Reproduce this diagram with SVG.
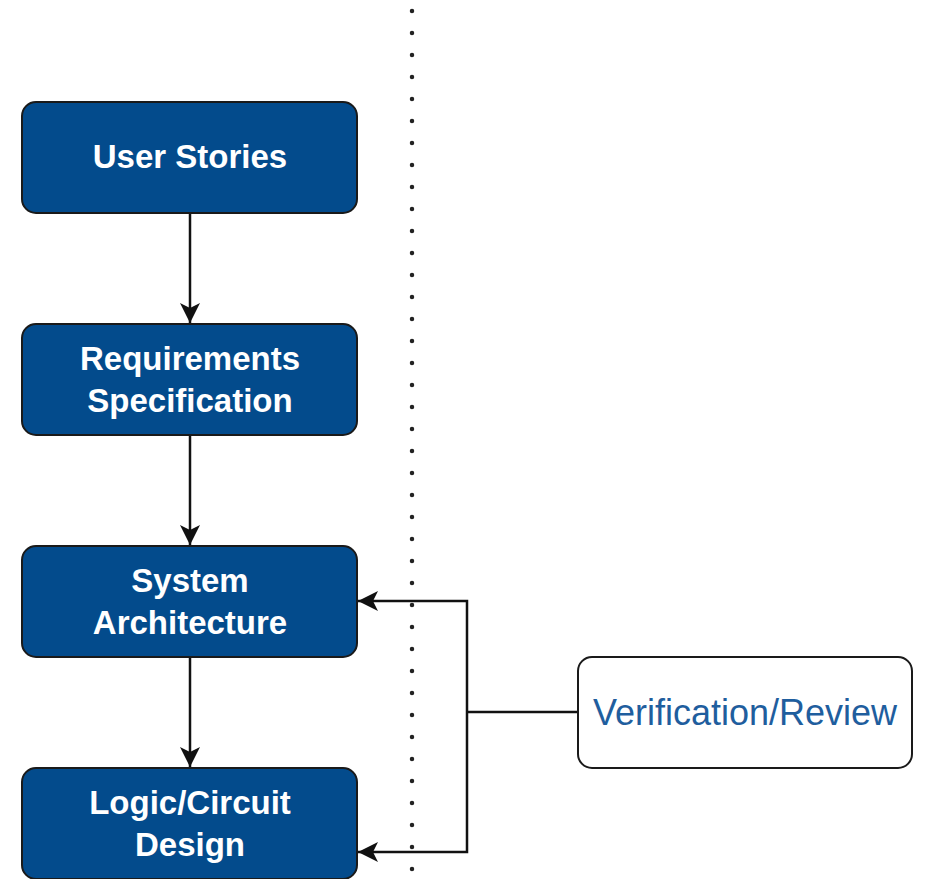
<svg xmlns="http://www.w3.org/2000/svg" width="925" height="879" viewBox="0 0 925 879">
  <style>
    .step rect { fill: #034b8c; stroke: #1a1a1a; stroke-width: 2; }
    .step text { fill: #ffffff; font-family: "Liberation Sans", Arial, sans-serif; font-weight: bold; font-size: 33px; text-anchor: middle; }
    .review rect { fill: #ffffff; stroke: #1a1a1a; stroke-width: 2; }
    .review text { fill: #1f5e9e; font-family: "Liberation Sans", Arial, sans-serif; font-size: 36px; text-anchor: middle; }
    .link { fill: none; stroke: #111111; stroke-width: 2.5; }
    .divider { stroke: #222222; stroke-width: 4.5; stroke-linecap: round; stroke-dasharray: 0 22; }
  </style>
  <defs>
    <marker id="arrow" viewBox="0 0 20 20" refX="20" refY="10" markerWidth="20" markerHeight="20" markerUnits="userSpaceOnUse" orient="auto">
      <path d="M0 0 L20 10 L0 20 L5 10 Z" fill="#111111"/>
    </marker>
  </defs>

  <rect width="925" height="879" fill="#ffffff"/>

  <!-- dotted separator -->
  <line class="divider" x1="412" y1="11" x2="412" y2="879"/>

  <g id="connectors">
    <path class="link" d="M190 213 V323" marker-end="url(#arrow)"/>
    <path class="link" d="M190 435 V545" marker-end="url(#arrow)"/>
    <path class="link" d="M190 657 V767" marker-end="url(#arrow)"/>
    <path class="link" d="M578 712 H467"/>
    <path class="link" d="M467 712 V601 H358" marker-end="url(#arrow)"/>
    <path class="link" d="M467 712 V852 H358" marker-end="url(#arrow)"/>
  </g>

  <g id="user-stories" class="step">
    <rect x="22" y="102" width="335" height="111" rx="14"/>
    <text x="190" y="168">User Stories</text>
  </g>

  <g id="requirements-specification" class="step">
    <rect x="22" y="324" width="335" height="111" rx="14"/>
    <text x="190" y="370">Requirements</text>
    <text x="190" y="412">Specification</text>
  </g>

  <g id="system-architecture" class="step">
    <rect x="22" y="546" width="335" height="111" rx="14"/>
    <text x="190" y="592">System</text>
    <text x="190" y="634">Architecture</text>
  </g>

  <g id="logic-circuit-design" class="step">
    <rect x="22" y="768" width="335" height="111" rx="14"/>
    <text x="190" y="814">Logic/Circuit</text>
    <text x="190" y="856">Design</text>
  </g>

  <g id="verification-review" class="review">
    <rect x="578" y="657" width="334" height="111" rx="14"/>
    <text x="745" y="725">Verification/Review</text>
  </g>
</svg>
